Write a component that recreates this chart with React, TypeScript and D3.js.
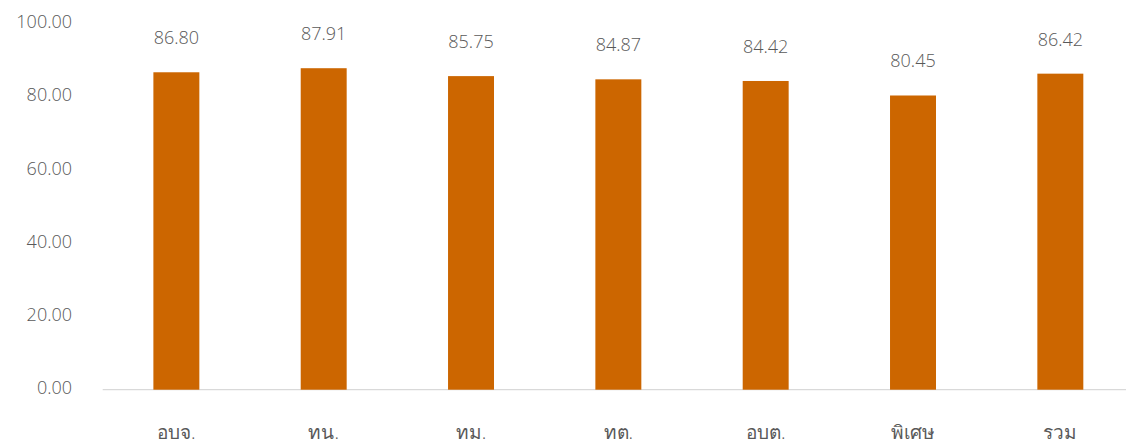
import React, { useEffect, useRef } from "react";
import * as d3 from "d3";

const categories = ["อบจ.", "ทน.", "ทม.", "ทต.", "อบต.", "พิเศษ", "รวม"];
const values = [86.8, 87.91, 85.75, 84.87, 84.42, 80.45, 86.42];
const yTicks = [0, 20, 40, 60, 80, 100];

const App: React.FC = () => {
  const svgRef = useRef<SVGSVGElement | null>(null);
  const width = 1126;
  const height = 441;

  useEffect(() => {
    const svg = d3.select(svgRef.current);
    svg.selectAll("*").remove();

    const font = "'Segoe UI', 'Open Sans', 'Noto Sans', sans-serif";
    const textColor = "#595959";

    const left = 102.7;
    const right = 1134;
    const bottom = 389.7;
    const top = 24;

    const x = d3.scaleBand<string>().domain(categories).range([left, right]).paddingInner(0.688).paddingOuter(0.344);
    const y = d3.scaleLinear().domain([0, 100]).range([bottom, top]);

    svg
      .append("line")
      .attr("x1", left)
      .attr("x2", width)
      .attr("y1", y(0))
      .attr("y2", y(0))
      .attr("stroke", "#d9d9d9")
      .attr("stroke-width", 1.3);

    svg
      .append("g")
      .selectAll("text")
      .data(yTicks)
      .enter()
      .append("text")
      .attr("x", 72)
      .attr("y", d => y(d) - 2)
      .attr("dy", "0.35em")
      .attr("text-anchor", "end")
      .attr("font-family", font)
      .attr("font-weight", 300)
      .attr("font-size", 18)
      .attr("fill", textColor)
      .text(d => d.toFixed(2));

    const bars = svg.append("g").selectAll("g").data(values).enter().append("g");

    bars
      .append("rect")
      .attr("x", (d, i) => x(categories[i]) as number)
      .attr("width", x.bandwidth())
      .attr("y", d => y(d))
      .attr("height", d => y(0) - y(d))
      .attr("fill", "#cc6600");

    bars
      .append("text")
      .attr("x", (d, i) => (x(categories[i]) as number) + x.bandwidth() / 2)
      .attr("y", d => y(d) - 28)
      .attr("text-anchor", "middle")
      .attr("font-family", font)
      .attr("font-weight", 300)
      .attr("font-size", 18)
      .attr("fill", textColor)
      .text(d => d.toFixed(2));

    svg
      .append("g")
      .selectAll("text")
      .data(categories)
      .enter()
      .append("text")
      .attr("x", d => (x(d) as number) + x.bandwidth() / 2)
      .attr("y", 439)
      .attr("text-anchor", "middle")
      .attr("font-family", font)
      .attr("font-weight", 300)
      .attr("font-size", 19)
      .attr("fill", textColor)
      .text(d => d);
  }, []);

  return (
    <svg
      ref={svgRef}
      width={width}
      height={height}
      style={{ position: "absolute", left: 0, top: 0, background: "#fff" }}
    ></svg>
  );
};

export default App;
